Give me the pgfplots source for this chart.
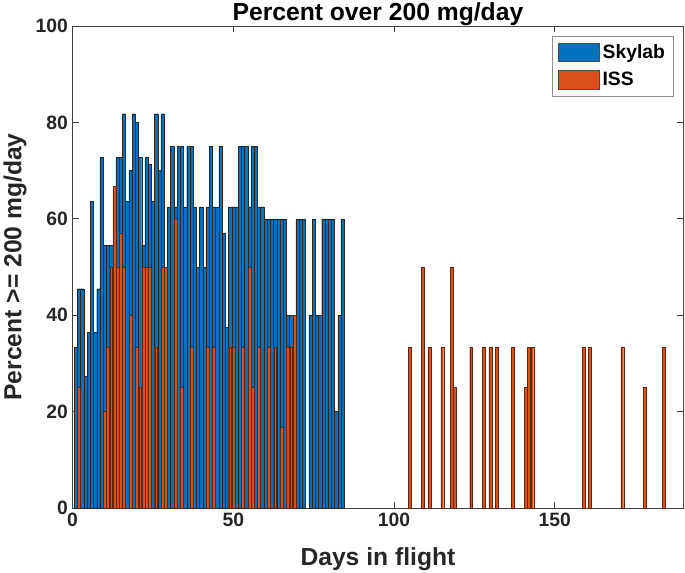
\documentclass[border=0pt]{standalone}
\usepackage{pgfplots}
\pgfplotsset{compat=1.18}
\usepackage{pgfplotstable}
\usepackage{fontspec}
\setmainfont{Liberation Sans}

\definecolor{mblue}{RGB}{0,114,189}
\definecolor{morange}{RGB}{217,83,25}

% Skylab: one value per flight day
\pgfplotstableread{
day pct
1 33.3
2 45.5
3 45.5
4 27.3
5 36.4
6 63.6
7 36.4
8 45.5
9 72.7
10 54.5
11 54.5
12 54.5
13 54.5
14 72.7
15 72.7
16 81.8
17 63.6
18 70
19 81.8
20 80
21 72.7
22 54.5
23 72.7
24 71.4
25 63.6
26 81.8
27 70
28 81.8
29 50
30 62.5
31 75
32 62.5
33 75
34 75
35 62.5
36 75
37 75
38 62.5
39 50
40 62.5
41 50
42 62.5
43 75
44 62.5
45 62.5
46 75
47 57.1
48 37.5
49 62.5
50 62.5
51 62.5
52 75
53 75
54 75
55 62.5
56 75
57 75
58 62.5
59 62.5
60 60
61 60
62 60
63 60
64 60
65 60
66 60
67 40
68 40
69 40
70 60
71 60
72 60
74 40
75 60
76 40
77 40
78 60
79 60
80 60
81 60
82 20
83 40
84 60
}\skylab

% ISS
\pgfplotstableread{
day pct
2 25
10 20
11 33.3
12 50
13 66.7
14 50
15 57.1
16 50
18 40
20 33.3
21 25
22 50
23 50
24 50
26 33.3
28 50
29 50
32 60
34 25
37 33.3
42 33.3
44 33.3
49 33.3
50 33.3
53 33.3
55 50
56 25
58 33.3
61 33.3
63 33.3
65 16.7
67 33.3
68 33.3
69 40
105 33.3
109 50
111 33.3
115 33.3
118 50
119 25
124 33.3
128 33.3
130 33.3
132 33.3
137 33.3
141 25
142 33.3
143 33.3
159 33.3
161 33.3
171 33.3
178 25
184 33.3
}\iss

\pgfplotsset{
  patchlegend/.style={legend image code/.code={
    \draw[##1, line width=0.4pt, draw=black!70] (0pt,-7pt) rectangle (31pt,7pt);}}
}

\begin{document}
\begin{tikzpicture}
\begin{axis}[
    scale only axis,
    width=458pt, height=361.5pt,
    xmin=0, xmax=190,
    ymin=0, ymax=100,
    xtick={0,50,100,150},
    ytick={0,20,40,60,80,100},
    tick align=inside,
    major tick length=4.5pt,
    axis line style={black!75, line width=0.6pt},
    every tick/.style={black!75, line width=0.6pt},
    /pgf/number format/assume math mode=true,
    tick label style={font=\bfseries\fontsize{14.5}{16}\selectfont, text=black!85},
    xlabel={Days in flight},
    ylabel={Percent >= 200 mg/day},
    label style={font=\bfseries\fontsize{18.5}{21}\selectfont, text=black!85},
    xlabel style={yshift=-9pt},
    title={Percent over 200 mg/day},
    every axis title/.style={at={(0.5,1)}, anchor=base, yshift=4pt,
        font=\bfseries\fontsize{18.5}{21}\selectfont},
    legend style={at={(1,1)}, anchor=north east, xshift=-7.5pt, yshift=-7.5pt,
        draw=black!45, fill=white, line width=0.5pt,
        font=\bfseries\fontsize{14.5}{16}\selectfont,
        row sep=5pt, inner sep=4pt},
    legend cell align=left,
]
\addplot[ybar, bar width=1, bar shift=0pt, fill=mblue, draw=black!85, line width=0.25pt, patchlegend]
    table[x=day, y=pct] {\skylab};
\addlegendentry{Skylab}
\addplot[ybar, bar width=0.9, bar shift=0pt, fill=morange, draw=morange!45!black, line width=0.2pt, patchlegend]
    table[x=day, y=pct] {\iss};
\addlegendentry{ISS}
\end{axis}
\pgfresetboundingbox
\path[use as bounding box] ([xshift=-54.45pt, yshift=-48pt]current axis.south west)
    rectangle ([xshift=1.3pt, yshift=19.5pt]current axis.north east);
\end{tikzpicture}
\end{document}
